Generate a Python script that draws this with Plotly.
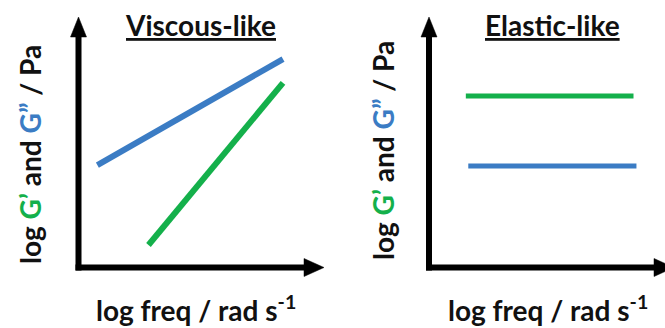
import plotly.graph_objects as go

# Schematic frequency sweeps (arbitrary log units, axes run 0..10)
# Viscous-like: G'' above G', G' rising more steeply
visc_freq_Gpp = [0.77, 8.33]
visc_Gpp = [4.09, 8.32]
visc_freq_Gp = [2.85, 8.33]
visc_Gp = [0.9, 7.37]

# Elastic-like: both moduli flat, G' above G''
elas_freq_Gp = [1.5, 8.33]
elas_Gp = [6.85, 6.85]
elas_freq_Gpp = [1.6, 8.45]
elas_Gpp = [4.05, 4.05]

panel_titles = ["Viscous-like", "Elastic-like"]
x_title = "log freq / rad s<sup>-1</sup>"

GREEN = "#14b04b"
BLUE = "#3b7cc4"
FONT = "Lato"
FSIZE = 28

W, H = 665, 328


def px(x):
    return x / W


def py(y):
    return 1 - y / H


fig = go.Figure()

fig.add_trace(go.Scatter(x=visc_freq_Gpp, y=visc_Gpp, mode="lines",
                         line=dict(color=BLUE, width=6), xaxis="x", yaxis="y"))
fig.add_trace(go.Scatter(x=visc_freq_Gp, y=visc_Gp, mode="lines",
                         line=dict(color=GREEN, width=6), xaxis="x", yaxis="y"))
fig.add_trace(go.Scatter(x=elas_freq_Gp, y=elas_Gp, mode="lines",
                         line=dict(color=GREEN, width=5), xaxis="x2", yaxis="y2"))
fig.add_trace(go.Scatter(x=elas_freq_Gpp, y=elas_Gpp, mode="lines",
                         line=dict(color=BLUE, width=5), xaxis="x2", yaxis="y2"))

ydom = [py(267.5), py(17)]
hidden = dict(showgrid=False, zeroline=False, showticklabels=False, ticks="",
              showline=False, fixedrange=True)

fig.update_layout(
    width=W, height=H,
    margin=dict(l=0, r=0, t=0, b=0),
    paper_bgcolor="white", plot_bgcolor="white",
    showlegend=False,
    xaxis=dict(domain=[px(78.5), px(324)], range=[0, 10], **hidden),
    yaxis=dict(domain=ydom, range=[0, 10], **hidden),
    xaxis2=dict(domain=[px(429), 1.0], range=[0, 236 / 24.55], **hidden),
    yaxis2=dict(domain=ydom, range=[0, 10], anchor="x2", **hidden),
)

# Arrowed axes drawn as shapes (shaft + triangular head)
shapes = []
AX_W = 6
for x0, xtip in [(78.5, 324), (429, 674)]:
    y0, ytip = 267.5, 17
    # vertical shaft and head
    shapes.append(dict(type="line", xref="paper", yref="paper",
                       x0=px(x0), x1=px(x0), y0=py(y0 + 3), y1=py(ytip + 16),
                       line=dict(color="black", width=AX_W)))
    shapes.append(dict(type="path", xref="paper", yref="paper",
                       path=(f"M{px(x0 - 8)},{py(ytip + 20)} L{px(x0)},{py(ytip)} "
                             f"L{px(x0 + 8)},{py(ytip + 20)} Z"),
                       fillcolor="black", line=dict(color="black", width=0.5)))
    # horizontal shaft and head
    shapes.append(dict(type="line", xref="paper", yref="paper",
                       x0=px(x0 - 3), x1=px(xtip - 16), y0=py(y0), y1=py(y0),
                       line=dict(color="black", width=AX_W)))
    shapes.append(dict(type="path", xref="paper", yref="paper",
                       path=(f"M{px(xtip - 20)},{py(y0 - 9)} L{px(xtip)},{py(y0)} "
                             f"L{px(xtip - 20)},{py(y0 + 9)} Z"),
                       fillcolor="black", line=dict(color="black", width=0.5)))

# Titles and axis labels
ylab = (f"log <span style='color:{GREEN}'>G’</span> and "
        f"<span style='color:{BLUE}'>G”</span> / Pa")
annotations = []
for title, tx, ylx, yly, xlx in [(panel_titles[0], 200, 30, 155, 196),
                                 (panel_titles[1], 552, 383, 151, 548)]:
    annotations.append(dict(x=px(tx), y=py(25), xref="paper", yref="paper",
                            text=f"<b><u>{title}</u></b>", showarrow=False,
                            font=dict(family=FONT, size=FSIZE, color="#111"),
                            xanchor="center", yanchor="middle"))
    annotations.append(dict(x=px(ylx), y=py(yly), xref="paper", yref="paper",
                            text=f"<b>{ylab}</b>", showarrow=False, textangle=-90,
                            font=dict(family=FONT, size=FSIZE, color="#111"),
                            xanchor="center", yanchor="middle"))
    annotations.append(dict(x=px(xlx), y=py(308), xref="paper", yref="paper",
                            text=f"<b>{x_title}</b>", showarrow=False,
                            font=dict(family=FONT, size=FSIZE, color="#111"),
                            xanchor="center", yanchor="middle"))

fig.update_layout(shapes=shapes, annotations=annotations)

fig.write_html("out.html", config={"displayModeBar": False})
